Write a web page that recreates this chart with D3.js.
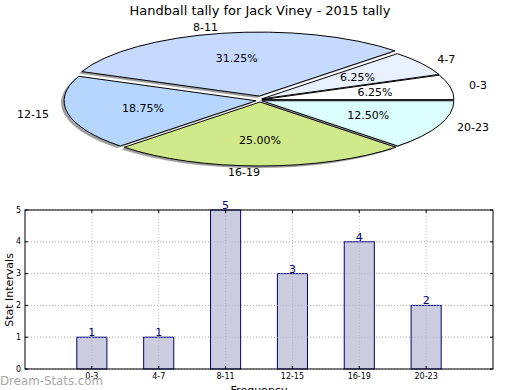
<!DOCTYPE html>
<html>
<head>
<meta charset="utf-8">
<script src="https://cdn.jsdelivr.net/npm/d3@7"></script>
<style>
  body { margin: 0; background: #fff; }
  text { font-family: "DejaVu Sans", sans-serif; }
</style>
</head>
<body>
<script>
/* DATA */
const categories = ["0-3", "4-7", "8-11", "12-15", "16-19", "20-23"];
const counts = [1, 1, 5, 3, 4, 2];
const yTicks = [0, 1, 2, 3, 4, 5];
const sliceColors = ["#ffffff", "#eaf1fe", "#c6d9fe", "#b7d6fe", "#d0e98a", "#dbffff"];
const explode = [2, 2, 4, 4, 2, 2]; // px offset per wedge

const width = 520, height = 390;

const svg = d3.select("body").append("svg")
  .attr("width", width)
  .attr("height", height);

// Title
svg.append("text")
  .attr("x", 260).attr("y", 15)
  .attr("text-anchor", "middle")
  .attr("font-size", "13px")
  .text("Handball tally for Jack Viney - 2015 tally");

/* PIE (squashed ellipse, matplotlib style: ccw from 3 o'clock) */
const cx = 260, cy = 100, rx = 192, ry = 64;
const total = d3.sum(counts);
const pie = d3.pie().sort(null).startAngle(0).endAngle(2 * Math.PI);
const arcs = pie(counts);

function wedgePath(a0, a1, ox, oy) {
  const x0 = cx + ox + rx * Math.cos(a0), y0 = cy + oy - ry * Math.sin(a0);
  const x1 = cx + ox + rx * Math.cos(a1), y1 = cy + oy - ry * Math.sin(a1);
  const large = (a1 - a0) > Math.PI ? 1 : 0;
  return `M${cx + ox},${cy + oy}L${x0},${y0}A${rx},${ry} 0 ${large} 0 ${x1},${y1}Z`;
}

const pieG = svg.append("g");

// shadows
pieG.selectAll("path.shadow")
  .data(arcs)
  .enter().append("path")
  .attr("class", "shadow")
  .attr("d", (d, i) => {
    const mid = (d.startAngle + d.endAngle) / 2;
    return wedgePath(d.startAngle, d.endAngle,
      explode[i] * Math.cos(mid) - 3, -explode[i] * Math.sin(mid) + 2);
  })
  .attr("fill", "#888")
  .attr("opacity", 0.8);

// wedges
pieG.selectAll("path.wedge")
  .data(arcs)
  .enter().append("path")
  .attr("class", "wedge")
  .attr("d", (d, i) => {
    const mid = (d.startAngle + d.endAngle) / 2;
    return wedgePath(d.startAngle, d.endAngle,
      explode[i] * Math.cos(mid), -explode[i] * Math.sin(mid));
  })
  .attr("fill", (d, i) => sliceColors[i])
  .attr("stroke", "#000")
  .attr("stroke-width", 1);

// percent labels
pieG.selectAll("text.pct")
  .data(arcs)
  .enter().append("text")
  .attr("class", "pct")
  .attr("x", (d, i) => {
    const mid = (d.startAngle + d.endAngle) / 2;
    return cx + (0.6 * rx + explode[i]) * Math.cos(mid);
  })
  .attr("y", (d, i) => {
    const mid = (d.startAngle + d.endAngle) / 2;
    return cy - (0.6 * ry + explode[i]) * Math.sin(mid);
  })
  .attr("text-anchor", "middle")
  .attr("dominant-baseline", "central")
  .attr("font-size", "11px")
  .text(d => (d.value / total * 100).toFixed(2) + "%");

// category labels
pieG.selectAll("text.cat")
  .data(arcs)
  .enter().append("text")
  .attr("class", "cat")
  .attr("x", (d, i) => {
    const mid = (d.startAngle + d.endAngle) / 2;
    return cx + (1.1 * rx + explode[i]) * Math.cos(mid);
  })
  .attr("y", (d, i) => {
    const mid = (d.startAngle + d.endAngle) / 2;
    return cy - (1.1 * ry + explode[i]) * Math.sin(mid);
  })
  .attr("text-anchor", d => Math.cos((d.startAngle + d.endAngle) / 2) > 0.001 ? "start" : "end")
  .attr("dominant-baseline", "central")
  .attr("font-size", "11px")
  .text((d, i) => categories[i]);

/* BAR CHART */
const plot = { left: 25, right: 493, top: 210, bottom: 369 };

const xScale = d3.scaleLinear()
  .domain([0, categories.length + 1])
  .range([plot.left, plot.right]);

const yScale = d3.scaleLinear()
  .domain([0, 5])
  .range([plot.bottom, plot.top]);

const barG = svg.append("g");

// grid lines
barG.selectAll("line.ygrid")
  .data(yTicks)
  .enter().append("line")
  .attr("x1", plot.left).attr("x2", plot.right)
  .attr("y1", d => yScale(d)).attr("y2", d => yScale(d))
  .attr("stroke", "#bbb")
  .attr("stroke-dasharray", "1,2");

barG.selectAll("line.xgrid")
  .data(categories)
  .enter().append("line")
  .attr("x1", (d, i) => xScale(i + 1)).attr("x2", (d, i) => xScale(i + 1))
  .attr("y1", plot.top).attr("y2", plot.bottom)
  .attr("stroke", "#bbb")
  .attr("stroke-dasharray", "1,2");

// bars
const barW = xScale(0.45) - xScale(0);
barG.selectAll("rect.bar")
  .data(counts)
  .enter().append("rect")
  .attr("x", (d, i) => xScale(i + 1) - barW / 2)
  .attr("y", d => yScale(d))
  .attr("width", barW)
  .attr("height", d => yScale(0) - yScale(d))
  .attr("fill", "#ccccdf")
  .attr("stroke", "#000080")
  .attr("stroke-width", 1);

// gridlines drawn over the bars
barG.selectAll("line.xgrid2")
  .data(categories)
  .enter().append("line")
  .attr("x1", (d, i) => xScale(i + 1)).attr("x2", (d, i) => xScale(i + 1))
  .attr("y1", (d, i) => yScale(counts[i])).attr("y2", plot.bottom)
  .attr("stroke", "#b0b0c4")
  .attr("stroke-dasharray", "1,2");

barG.selectAll("line.ygrid2")
  .data(yTicks)
  .enter().append("line")
  .attr("x1", plot.left).attr("x2", plot.right)
  .attr("y1", d => yScale(d)).attr("y2", d => yScale(d))
  .attr("stroke", "#b0b0c4")
  .attr("stroke-dasharray", "1,2")
  .attr("opacity", 0.6);

// value labels
barG.selectAll("text.val")
  .data(counts)
  .enter().append("text")
  .attr("x", (d, i) => xScale(i + 1))
  .attr("y", d => yScale(d) - 1)
  .attr("text-anchor", "middle")
  .attr("font-size", "11px")
  .attr("fill", "#000080")
  .text(d => d);

// frame
barG.append("rect")
  .attr("x", plot.left).attr("y", plot.top)
  .attr("width", plot.right - plot.left)
  .attr("height", plot.bottom - plot.top)
  .attr("fill", "none")
  .attr("stroke", "#000")
  .attr("stroke-width", 1);

// ticks (inward on all sides)
yTicks.forEach(t => {
  barG.append("line").attr("x1", plot.left).attr("x2", plot.left + 3)
    .attr("y1", yScale(t)).attr("y2", yScale(t)).attr("stroke", "#000");
  barG.append("line").attr("x1", plot.right).attr("x2", plot.right - 3)
    .attr("y1", yScale(t)).attr("y2", yScale(t)).attr("stroke", "#000");
});
categories.forEach((c, i) => {
  barG.append("line").attr("x1", xScale(i + 1)).attr("x2", xScale(i + 1))
    .attr("y1", plot.bottom).attr("y2", plot.bottom - 3).attr("stroke", "#000");
  barG.append("line").attr("x1", xScale(i + 1)).attr("x2", xScale(i + 1))
    .attr("y1", plot.top).attr("y2", plot.top + 3).attr("stroke", "#000");
});

// tick labels
barG.selectAll("text.ytick")
  .data(yTicks)
  .enter().append("text")
  .attr("x", plot.left - 4)
  .attr("y", d => yScale(d))
  .attr("text-anchor", "end")
  .attr("dominant-baseline", "central")
  .attr("font-size", "8px")
  .text(d => d);

barG.selectAll("text.xtick")
  .data(categories)
  .enter().append("text")
  .attr("x", (d, i) => xScale(i + 1))
  .attr("y", plot.bottom + 10)
  .attr("text-anchor", "middle")
  .attr("font-size", "8px")
  .text(d => d);

// axis labels
svg.append("text")
  .attr("x", 259).attr("y", 394)
  .attr("text-anchor", "middle")
  .attr("font-size", "11px")
  .text("Frequency");

svg.append("text")
  .attr("transform", "translate(13,290) rotate(-90)")
  .attr("text-anchor", "middle")
  .attr("font-size", "11px")
  .text("Stat Intervals");

// watermark
svg.append("text")
  .attr("x", 0).attr("y", 385)
  .attr("font-size", "13px")
  .attr("textLength", 103)
  .attr("lengthAdjust", "spacingAndGlyphs")
  .attr("fill", "#999")
  .attr("opacity", 0.85)
  .text("Dream-Stats.com");
</script>
</body>
</html>
